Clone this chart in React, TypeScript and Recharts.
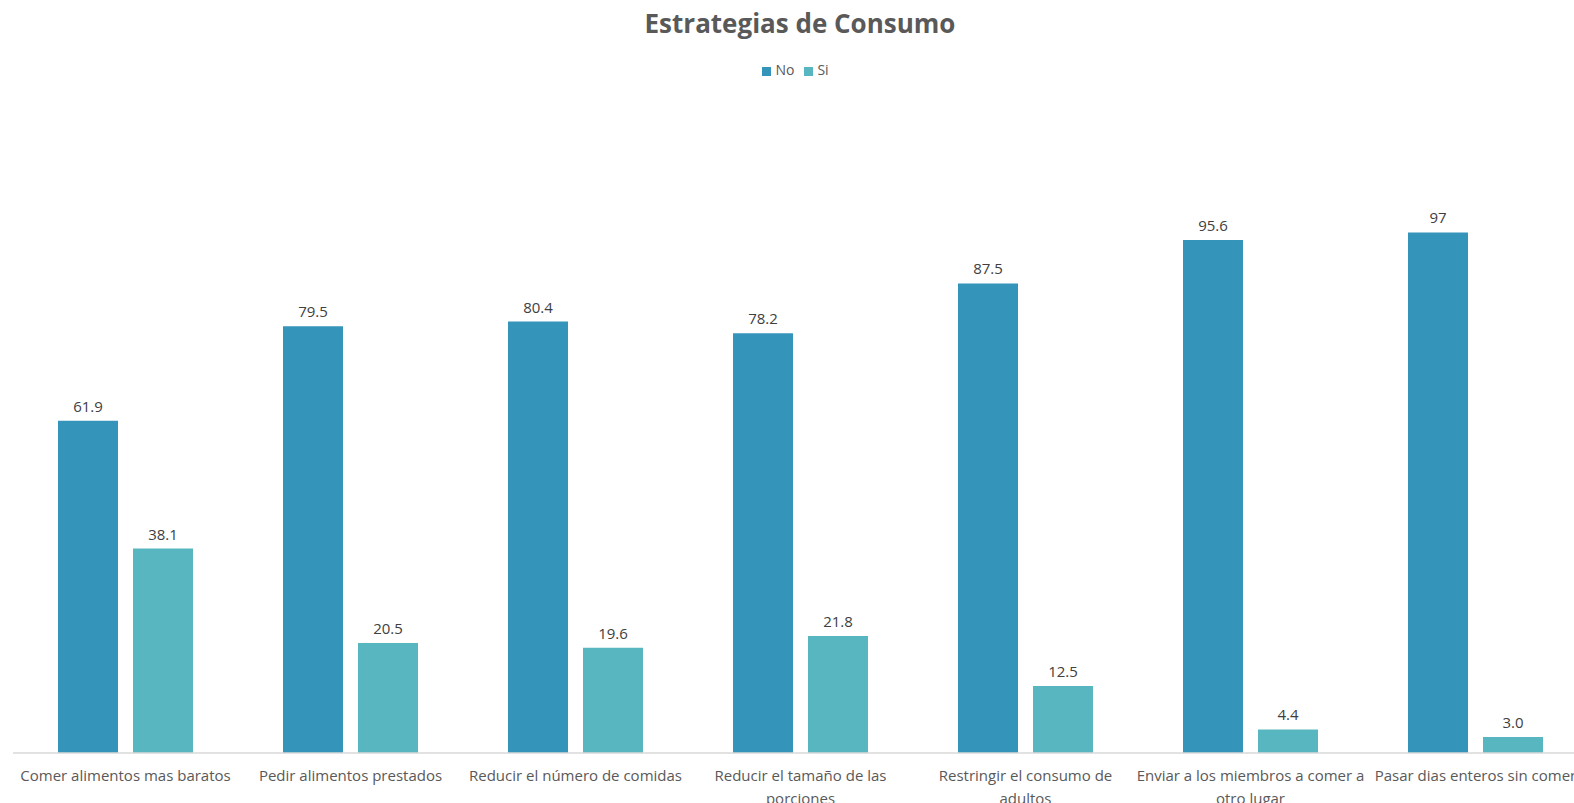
import { Bar, BarChart, LabelList, Legend, XAxis, YAxis } from "recharts";

// "\n" marks where the spreadsheet wrapped the label
const categories = [
  "Comer alimentos mas baratos",
  "Pedir alimentos prestados",
  "Reducir el número de comidas",
  "Reducir el tamaño de las\nporciones",
  "Restringir el consumo de\nadultos",
  "Enviar a los miembros a comer a\notro lugar",
  "Pasar dias enteros sin comer",
];
const noValues = [61.9, 79.5, 80.4, 78.2, 87.5, 95.6, 97];
const siValues = [38.1, 20.5, 19.6, 21.8, 12.5, 4.4, 3.0];

const data = categories.map((name, i) => ({ name, no: noValues[i], si: siValues[i] }));

const FONT = "'Open Sans', sans-serif";

function CategoryTick(props: any) {
  const { x, y, payload } = props;
  const lines = String(payload.value).split("\n");
  return (
    <text x={x} y={y + 28} textAnchor="middle" fill="#595959" fontSize={15} fontFamily={FONT}>
      {lines.map((line, i) => (
        <tspan key={i} x={x} dy={i === 0 ? 0 : 23}>
          {line}
        </tspan>
      ))}
    </text>
  );
}

export default function App() {
  return (
    <div
      style={{
        position: "fixed",
        left: 0,
        top: 0,
        width: 1574,
        height: 803,
        overflow: "hidden",
        background: "#fff",
        fontFamily: FONT,
      }}
    >
      <div
        style={{
          position: "absolute",
          top: 5,
          left: 0,
          width: 1600,
          textAlign: "center",
          fontSize: 26,
          fontWeight: 700,
          color: "#595959",
        }}
      >
        Estrategias de Consumo
      </div>
      <BarChart
        width={1600}
        height={803}
        data={data}
        margin={{ top: 90, right: 12, bottom: 0, left: 13 }}
        barSize={60}
        barGap={15}
      >
        <XAxis
          dataKey="name"
          height={50}
          tickLine={false}
          tickSize={0}
          tickMargin={0}
          axisLine={{ stroke: "#d9d9d9", strokeWidth: 1.5 }}
          tick={<CategoryTick />}
          interval={0}
        />
        <YAxis hide domain={[0, 120]} />
        <Legend
          verticalAlign="top"
          align="center"
          iconType="square"
          iconSize={9}
          wrapperStyle={{ top: 60, fontSize: 14, fontFamily: FONT }}
          formatter={(value: string) => (
            <span style={{ color: "#595959" }}>{value}</span>
          )}
        />
        <Bar dataKey="no" name="No" fill="#3494ba" isAnimationActive={false}>
          <LabelList
            dataKey="no"
            position="top"
            offset={9}
            fill="#404040"
            fontSize={15}
            fontFamily={FONT}
            formatter={(v: any) => String(v)}
          />
        </Bar>
        <Bar dataKey="si" name="Si" fill="#58b6c0" isAnimationActive={false}>
          <LabelList
            dataKey="si"
            position="top"
            offset={9}
            fill="#404040"
            fontSize={15}
            fontFamily={FONT}
            formatter={(v: any) => Number(v).toFixed(1)}
          />
        </Bar>
      </BarChart>
    </div>
  );
}
